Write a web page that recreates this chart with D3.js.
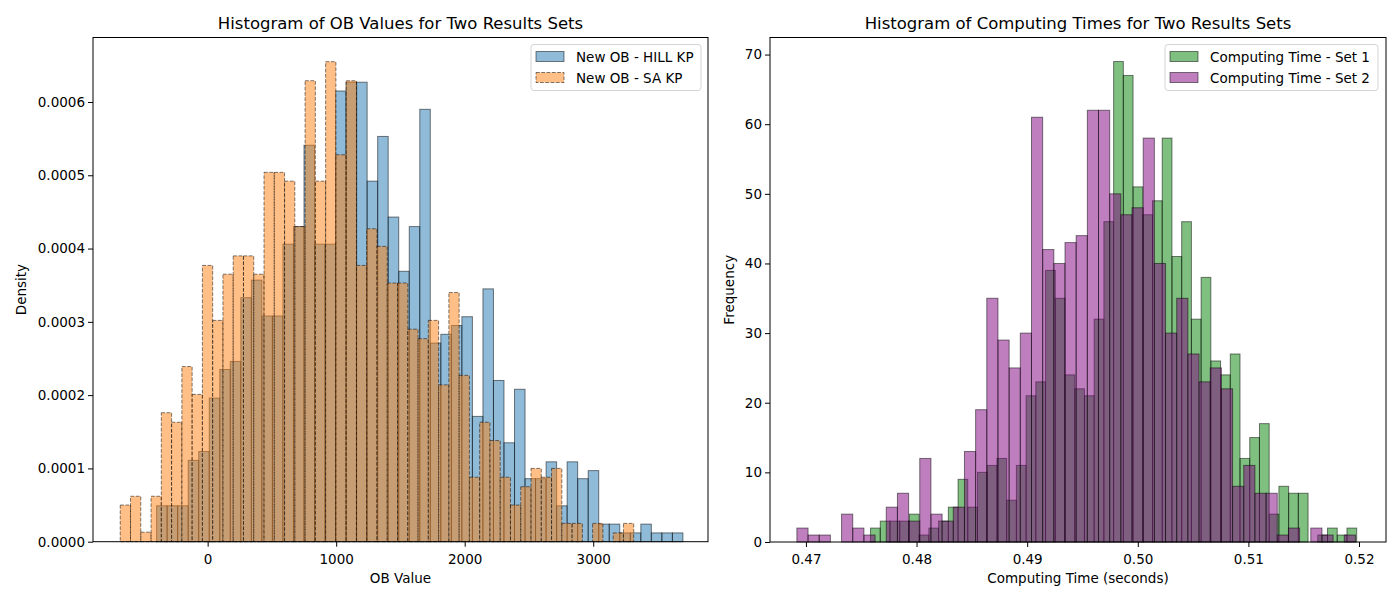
<!DOCTYPE html>
<html>
<head>
<meta charset="utf-8">
<script src="https://cdn.jsdelivr.net/npm/d3@7"></script>
<style>
  body { margin: 0; background: #fff; }
  text { font-family: "DejaVu Sans", sans-serif; }
</style>
</head>
<body>
<svg id="chart" width="1400" height="600"></svg>
<script>
// histogram bins
// OB values: density (x 1e-4) per bin
var hillStart = -397, hillWidth = 81.9;
var hillDensity = [0.49,0.49,0.49,1.11,1.23,1.96,2.35,2.46,3.33,3.57,3.08,3.08,4.06,4.30,5.41,4.06,4.06,6.15,6.27,6.27,
  4.92,5.53,4.43,3.69,4.30,5.90,2.71,2.83,2.95,3.07,1.71,3.45,2.20,1.35,2.08,0.86,0.86,1.09,0.49,1.09,
  0.86,0.97,0.24,0.24,0.12,0.12,0.24,0.12,0.12,0.12];
var saStart = -680, saWidth = 79.9;
var saDensity = [0.50,0.62,0.13,0.62,1.76,1.63,2.39,2.01,3.77,3.02,3.65,3.90,3.90,3.65,5.04,5.04,4.92,4.30,6.29,4.92,
  6.55,5.28,6.29,3.77,4.27,4.03,3.53,3.53,2.90,2.77,3.02,2.14,3.40,2.27,0.88,1.63,1.38,0.88,0.50,0.75,
  1.00,0.88,1.00,0.25,0.25,0,0.25,0,0.12,0.25];

// computing times: counts per bin
var set1Start = 0.47584, set1Width = 0.000879;
var set1Counts = [2,3,3,3,4,1,2,3,5,9,5,10,11,12,6,11,21,23,39,35,
  24,22,21,32,46,69,67,51,47,49,58,41,46,32,38,26,24,27,12,15,
  17,4,8,7,7,0,1,2,1,2];
var set2Start = 0.46918, set2Width = 0.001010;
var set2Counts = [2,1,1,0,4,2,1,0,5,7,3,12,4,3,5,13,19,35,29,25,
  30,61,42,40,43,44,62,62,50,47,48,58,40,30,35,27,23,25,22,8,
  11,7,7,1,2,0,2,1,0,1];

var obTicks = [0, 1000, 2000, 3000];
var densityTicks = [0, 0.0001, 0.0002, 0.0003, 0.0004, 0.0005, 0.0006];
var timeTicks = [0.47, 0.48, 0.49, 0.50, 0.51, 0.52];
var freqTicks = [0, 10, 20, 30, 40, 50, 60, 70];

var svg = d3.select("#chart");

function toBins(start, width, vals, scale) {
  return vals.map(function (v, i) {
    return { x0: start + i * width, x1: start + (i + 1) * width, y: v * scale };
  });
}

function panel(opt) {
  var g = svg.append("g");
  var x = d3.scaleLinear().domain(opt.xDomain).range([opt.left, opt.right]);
  var y = d3.scaleLinear().domain(opt.yDomain).range([opt.bottom, opt.top]);

  opt.series.forEach(function (s) {
    g.append("g").selectAll("rect")
      .data(s.bins)
      .enter()
      .append("rect")
      .attr("x", function (d) { return x(d.x0); })
      .attr("width", function (d) { return x(d.x1) - x(d.x0); })
      .attr("y", function (d) { return y(d.y); })
      .attr("height", function (d) { return y(0) - y(d.y); })
      .attr("fill", s.color)
      .attr("fill-opacity", 0.5)
      .attr("stroke", "black")
      .attr("stroke-opacity", d => d.y > 0 ? 0.5 : 0)
      .attr("stroke-width", 1)
      .attr("stroke-dasharray", s.dash || null);
  });

  var xAxis = g.append("g").attr("transform", "translate(0," + opt.bottom + ")")
    .call(d3.axisBottom(x).tickValues(opt.xTicks).tickFormat(opt.xFormat).tickSizeOuter(0).tickSize(5));
  var yAxis = g.append("g").attr("transform", "translate(" + opt.left + ",0)")
    .call(d3.axisLeft(y).tickValues(opt.yTicks).tickFormat(opt.yFormat).tickSizeOuter(0).tickSize(5));
  [xAxis, yAxis].forEach(function (a) {
    a.select(".domain").remove();
    a.selectAll("text").attr("font-size", 13.5).attr("font-family", "DejaVu Sans").attr("fill", "#000");
    a.selectAll("line").attr("stroke", "#000");
  });
  xAxis.selectAll("text").attr("dy", "1.05em");

  g.append("rect")
    .attr("x", opt.left).attr("y", opt.top)
    .attr("width", opt.right - opt.left).attr("height", opt.bottom - opt.top)
    .attr("fill", "none").attr("stroke", "#000").attr("stroke-width", 1);

  g.append("text")
    .attr("x", (opt.left + opt.right) / 2).attr("y", opt.top - 9)
    .attr("text-anchor", "middle").attr("font-size", 16.5)
    .text(opt.title);
  g.append("text")
    .attr("x", (opt.left + opt.right) / 2).attr("y", opt.bottom + 41)
    .attr("text-anchor", "middle").attr("font-size", 13.5)
    .text(opt.xLabel);
  g.append("text")
    .attr("transform", "translate(" + opt.yLabelX + "," + (opt.top + opt.bottom) / 2 + ") rotate(-90)")
    .attr("text-anchor", "middle").attr("font-size", 13.5)
    .text(opt.yLabel);

  // legend
  var L = opt.legend;
  var lg = g.append("g");
  lg.append("rect")
    .attr("x", L.x).attr("y", L.y).attr("width", L.w).attr("height", 46)
    .attr("rx", 3).attr("fill", "#fff").attr("fill-opacity", 0.8)
    .attr("stroke", "#d5d5d5");
  opt.series.forEach(function (s, i) {
    var cy = L.y + 12 + i * 21;
    lg.append("rect")
      .attr("x", L.x + 5).attr("y", cy - 5).attr("width", 28).attr("height", 10)
      .attr("fill", s.color).attr("fill-opacity", 0.5)
      .attr("stroke", "black").attr("stroke-opacity", 0.5)
      .attr("stroke-dasharray", s.dash || null);
    lg.append("text")
      .attr("x", L.x + 45).attr("y", cy + 5)
      .attr("font-size", 13.5)
      .text(s.name);
  });
}

panel({
  left: 93, right: 708, top: 37.5, bottom: 541.7,
  xDomain: [-892, 3893], yDomain: [0, 0.000688],
  xTicks: obTicks, yTicks: densityTicks,
  xFormat: d3.format("d"), yFormat: d3.format(".4f"),
  title: "Histogram of OB Values for Two Results Sets",
  xLabel: "OB Value", yLabel: "Density", yLabelX: 26,
  legend: { x: 531, y: 44.5, w: 170 },
  series: [
    { name: "New OB - HILL KP", color: "#1f77b4", bins: toBins(hillStart, hillWidth, hillDensity, 1e-4) },
    { name: "New OB - SA KP", color: "#ff7f0e", dash: "3.7,1.6", bins: toBins(saStart, saWidth, saDensity, 1e-4) }
  ]
});

panel({
  left: 770, right: 1386, top: 37.5, bottom: 542,
  xDomain: [0.46675, 0.52244], yDomain: [0, 72.45],
  xTicks: timeTicks, yTicks: freqTicks,
  xFormat: d3.format(".2f"), yFormat: d3.format("d"),
  title: "Histogram of Computing Times for Two Results Sets",
  xLabel: "Computing Time (seconds)", yLabel: "Frequency", yLabelX: 734,
  legend: { x: 1165, y: 44.5, w: 213 },
  series: [
    { name: "Computing Time - Set 1", color: "green", bins: toBins(set1Start, set1Width, set1Counts, 1) },
    { name: "Computing Time - Set 2", color: "purple", bins: toBins(set2Start, set2Width, set2Counts, 1) }
  ]
});
</script>
</body>
</html>
